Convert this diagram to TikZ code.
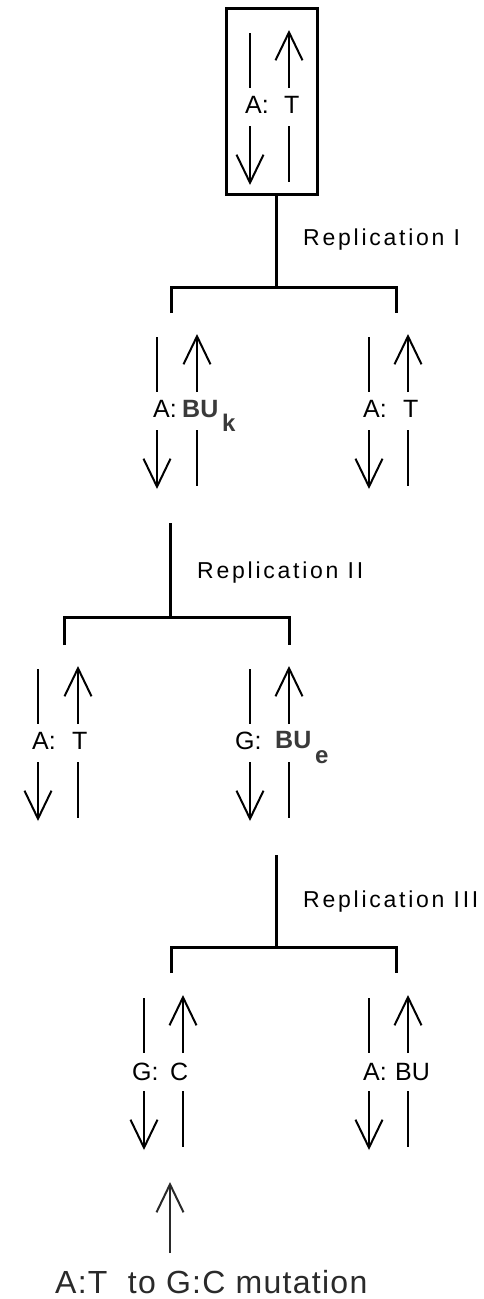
\documentclass[tikz,border=0pt]{standalone}
\usepackage{fontspec}
\setmainfont{Liberation Sans}
\newfontfamily\replfont[LetterSpace=12]{Liberation Sans}
\newfontfamily\notefont[LetterSpace=4]{Liberation Sans}
\usetikzlibrary{arrows.meta}

\definecolor{bu}{HTML}{3A3A3A}
\definecolor{note}{HTML}{2A2A2A}
\tikzset{
  conn/.style={line width=3pt},
  strand/.style={line width=2.8pt},
  barb/.tip={Straight Barb[length=28pt,width=27pt,line width=2pt]},
  base/.style={font=\fontsize{25}{30}\selectfont, inner sep=0pt, anchor=base west},
  basebu/.style={base, font=\fontsize{25}{30}\selectfont\bfseries, text=bu},
  subbu/.style={base, font=\fontsize{24}{28}\selectfont\bfseries, text=bu},
  repl/.style={font=\replfont\fontsize{23}{28}\selectfont, inner sep=0pt, anchor=base west},
}

% one double strand: name, x of the left strand, x of the right strand, y of the top tip
\newcommand{\strandpair}[4]{%
  \coordinate (#1-l) at (#2,#4);
  \coordinate (#1-r) at (#3,#4);
  \draw[strand] (#2,#4+3) -- (#2,#4+58);
  \draw[strand,-barb] (#2,#4+96) -- (#2,#4+155);
  \draw[strand,-barb] (#3,#4+58) -- (#3,#4);
  \draw[strand] (#3,#4+96) -- (#3,#4+152);
}

\begin{document}
\begin{tikzpicture}[x=1pt,y=-1pt]
\useasboundingbox (0,0) rectangle (484,1299);

% parent molecule in its frame
\node[draw, line width=3pt, minimum width=91pt, minimum height=186pt,
      inner sep=0pt, anchor=north west] (box) at (225,7) {};
\strandpair{p0}{250}{289}{30}
\node[base] (p0a) at (245,113) {A:};
\node[base] (p0b) at (284,113) {T};

% replication I
\coordinate (j1) at (276,287);
\coordinate (j1l) at (171,287);
\coordinate (j1r) at (396,287);
\coordinate (t1l) at (171,313);
\coordinate (t1r) at (396,313);
\draw[conn] (box.south -| j1) -- (j1);
\draw[conn] (t1l) -- (j1l) -- (j1r) -- (t1r);
\node[repl] (r1) at (303,245) {Replication I};

\strandpair{p1}{157}{197}{334}
\node[base] (p1a) at (153,417) {A:};
\node[basebu] (p1b) at (182,417) {BU};
\node[subbu] (p1c) at (222,431) {k};

\strandpair{p2}{369}{408}{334}
\node[base] (p2a) at (363,417) {A:};
\node[base] (p2b) at (403,417) {T};

% replication II
\coordinate (s2) at (170,523);
\coordinate (j2) at (170,617);
\coordinate (j2l) at (64,617);
\coordinate (j2r) at (289,617);
\coordinate (t2l) at (64,645);
\coordinate (t2r) at (289,645);
\draw[conn] (s2) -- (j2);
\draw[conn] (t2l) -- (j2l) -- (j2r) -- (t2r);
\node[repl] (r2) at (197,578) {Replication II};

\strandpair{p3}{38}{78}{666}
\node[base] (p3a) at (32,749) {A:};
\node[base] (p3b) at (72,749) {T};

\strandpair{p4}{250}{289}{666}
\node[base] (p4a) at (235,749) {G:};
\node[basebu] (p4b) at (275,748) {BU};
\node[subbu] (p4c) at (315,763) {e};

% replication III
\coordinate (s3) at (276,855);
\coordinate (j3) at (276,947);
\coordinate (j3l) at (171,947);
\coordinate (j3r) at (396,947);
\coordinate (t3l) at (171,973);
\coordinate (t3r) at (396,973);
\draw[conn] (s3) -- (j3);
\draw[conn] (t3l) -- (j3l) -- (j3r) -- (t3r);
\node[repl] (r3) at (303,907) {Replication III};

\strandpair{p5}{144}{183}{995}
\node[base] (p5a) at (132,1080) {G:};
\node[base] (p5b) at (170,1080) {C};

\strandpair{p6}{369}{408}{995}
\node[base] (p6a) at (363,1080) {A:};
\node[base] (p6b) at (395,1080) {BU};

% outcome
\node[font=\notefont\fontsize{32}{38}\selectfont, text=note, inner sep=0pt, anchor=base west]
  (mut) at (55,1293) {A:T\ \ to G:C mutation};
\coordinate (up) at (170,1182);
\coordinate (tail) at (170,1253);
\draw[line width=2.2pt, draw=note, -barb] (tail) -- (up);
\end{tikzpicture}
\end{document}
